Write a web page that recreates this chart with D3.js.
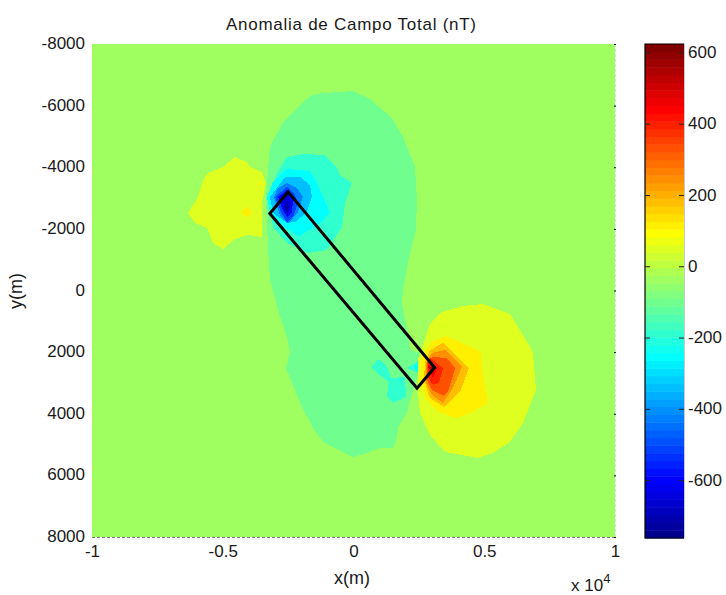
<!DOCTYPE html>
<html lang="en">
<head>
  <meta charset="UTF-8">
  <title>Anomalia de Campo Total</title>
  <style>
    body { margin: 0; background: white; }
    svg { display: block; }
    text { font-family: "Liberation Sans", Arial, sans-serif; fill: #1a1a1a; }
    .domain { display: none; }
  </style>
</head>
<body>
  <svg id="chart" width="726" height="595"></svg>

  <script src="https://d3js.org/d3.v7.min.js"></script>
  <script>
    // colour limits of the field (nT)
    const cMin = -761, cMax = 625;
    const backgroundLevel = -36;

    const xTicks = [-10000, -5000, 0, 5000, 10000];
    const xTickLabels = ["-1", "-0.5", "0", "0.5", "1"];
    const yTicks = [-8000, -6000, -4000, -2000, 0, 2000, 4000, 6000, 8000];
    const cTicks = [-600, -400, -200, 0, 200, 400, 600];

    // filled contours, [x, y] in metres
    const lowMint = [[-1587,-6344],[-1166,-6409],[-19,-6474],[631,-6214],[1472,-5598],[1893,-4981],[2352,-4008],[2428,-2937],[2390,-1963],[2084,-925],[1893,-16],[1855,406],[2046,1282],[2161,1931],[2543,2028],[2466,2190],[2428,2807],[2275,3229],[2046,3975],[1702,4429],[1663,4754],[1510,5111],[1013,5111],[516,5273],[-19,5403],[-784,5078],[-1166,4916],[-1549,4462],[-2008,3716],[-2237,3229],[-2581,2515],[-2428,1996],[-2505,1606],[-2772,957],[-3040,146],[-3193,-341],[-3270,-1412],[-3346,-2937],[-3270,-3910],[-3193,-4657],[-2696,-5468],[-1931,-6117]];
    const lowTeal = [[-2543,-4332],[-1931,-4429],[-1090,-4397],[-631,-3975],[-516,-3748],[-57,-3488],[-325,-2839],[-440,-2061],[-1013,-1314],[-1740,-1217],[-2543,-1541],[-3078,-2061],[-3270,-3034],[-2925,-3813]];
    const lowTealSpot = [[937,2223],[1281,2450],[1434,2839],[1969,2807],[2008,3456],[1510,3651],[1281,3424],[1358,2969],[899,2677],[707,2482]];
    const lowTealDiamond = [[2046,2515],[2466,2288],[2466,2677]];
    const lowCyan = [[-2543,-3943],[-1663,-3878],[-1396,-3488],[-1166,-3034],[-899,-2515],[-1281,-2190],[-2046,-1769],[-2696,-2061],[-3193,-2547],[-3308,-3034],[-3078,-3521]];
    const lowCyanDiamond = [[2275,2482],[2466,2385],[2466,2612]];
    const lowSky = [[-2619,-3683],[-2046,-3683],[-1663,-3423],[-1587,-3034],[-1778,-2547],[-2237,-2223],[-2543,-2190],[-3078,-2515],[-3193,-3034]];
    const lowAzure = [[-2543,-3488],[-2161,-3326],[-1931,-3034],[-2122,-2547],[-2505,-2158],[-2811,-2450],[-3040,-3034],[-2887,-3326]];
    const lowBlue = [[-2543,-3359],[-2275,-3164],[-2122,-2839],[-2314,-2385],[-2543,-2223],[-2772,-2547],[-3002,-3034]];
    const lowDeep = [[-2543,-3261],[-2314,-2937],[-2352,-2547],[-2543,-2385],[-2734,-2677],[-2887,-3034]];
    const lowNavy = [[-2543,-3164],[-2390,-2839],[-2505,-2450],[-2581,-2515],[-2696,-2872]];
    const lowDark = [[-2505,-2872],[-2466,-2677],[-2543,-2515],[-2619,-2710]];

    const highLeft = [[-4531,-4332],[-4034,-4137],[-3958,-4008],[-3499,-3845],[-3346,-3488],[-3499,-2839],[-3499,-1736],[-4034,-1801],[-4531,-1671],[-4990,-1347],[-5373,-1541],[-5602,-2028],[-6061,-2190],[-6329,-2515],[-5946,-3034],[-5755,-3586],[-5564,-3813],[-4990,-4008]];
    const highLeftSpot = [[-4073,-2742],[-3881,-2515],[-4073,-2385],[-4302,-2515]];
    const highLeftDot = [[-3575,-3553],[-3537,-3456],[-3575,-3326],[-3614,-3456]];
    const highRight = [[4952,438],[5985,763],[6367,1282],[6864,1996],[6979,3229],[6482,4300],[5985,4916],[5334,5273],[4761,5435],[3499,5241],[2925,4689],[2543,3975],[2466,3326],[2466,2255],[2734,1606],[2925,1055],[3384,698],[4187,503]];
    const highYellow = [[3499,1476],[4073,1671],[4876,1996],[4914,2580],[5105,3456],[5105,3651],[4570,3943],[3958,4137],[3231,3943],[2811,3553],[2581,3002],[2581,2255],[2925,1704]];
    const highAmber = [[3422,1704],[4417,2515],[4073,3294],[3461,3780],[2925,3488],[2696,2904],[2734,2320],[2925,1931]];
    const highOrange = [[3499,1931],[4149,2482],[3805,3164],[3422,3651],[3002,3391],[2772,3002],[2772,2353],[3002,2028]];
    const highVermilion = [[3575,2190],[3881,2515],[3614,3294],[3461,3424],[3002,3229],[2811,2904],[2811,2353],[3040,2158]];
    const highRed = [[2925,2190],[3422,2515],[3270,3002],[3040,3067],[2849,2807],[2849,2353]];
    const highCrimson = [[2849,2418],[3193,2515],[3040,2839],[2925,2645]];
    const highMaroon = [[2849,2482],[3040,2482],[2964,2645]];

    // painted in this order, outer contours first
    const contours = [
      { level: -101, ring: lowMint },
      { level: -186, ring: lowTeal },
      { level: -186, ring: lowTealSpot },
      { level: -186, ring: lowTealDiamond },
      { level: -252, ring: lowCyan },
      { level: -252, ring: lowCyanDiamond },
      { level: -339, ring: lowSky },
      { level: -425, ring: lowAzure },
      { level: -512, ring: lowBlue },
      { level: -599, ring: lowDeep },
      { level: -664, ring: lowNavy },
      { level: -729, ring: lowDark },
      { level: 50, ring: highLeft },
      { level: 115, ring: highLeftSpot },
      { level: 115, ring: highLeftDot },
      { level: 50, ring: highRight },
      { level: 115, ring: highYellow },
      { level: 180, ring: highAmber },
      { level: 245, ring: highOrange },
      { level: 332, ring: highVermilion },
      { level: 397, ring: highRed },
      { level: 462, ring: highCrimson },
      { level: 527, ring: highMaroon }
    ];

    // the prism outline drawn on top
    const prism = [[-2500,-3200],[3100,2500],[2430,3170],[-3200,-2500]];

    const svg = d3.select("#chart");

    const x = d3.scaleLinear().domain([-10000, 10000]).range([92, 615]);
    const y = d3.scaleLinear().domain([-8000, 8000]).range([44, 537]);
    const c = d3.scaleLinear().domain([cMin, cMax]).range([538, 44]);

    // matlab jet(64)
    function jetRow(i) {
      const ramp = (v) => Math.max(0, Math.min(1, v));
      const r = ramp(Math.min((i - 24) / 16, (72 - i) / 16));
      const g = ramp(Math.min((i - 8) / 16, (56 - i) / 16));
      const b = ramp(Math.min((i + 8) / 16, (40 - i) / 16));
      return d3.rgb(r * 255, g * 255, b * 255).formatHex();
    }
    function jet(v) {
      const row = Math.min(64, Math.floor((v - cMin) / (cMax - cMin) * 64) + 1);
      return jetRow(row);
    }

    // field
    svg.append("rect")
      .attr("x", x(-10000)).attr("y", y(-8000))
      .attr("width", x(10000) - x(-10000)).attr("height", y(8000) - y(-8000))
      .attr("fill", jet(backgroundLevel));

    const ringPath = d3.line().x(d => x(d[0])).y(d => y(d[1])).curve(d3.curveLinearClosed);

    svg.append("g").selectAll("path")
      .data(contours)
      .join("path")
      .attr("d", d => ringPath(d.ring))
      .attr("fill", d => jet(d.level))
      .attr("shape-rendering", "crispEdges");

    svg.append("path")
      .attr("d", ringPath(prism))
      .attr("fill", "none")
      .attr("stroke", "black")
      .attr("stroke-width", 3)
      .attr("stroke-linejoin", "miter");

    // what shows of the axes box under the field
    svg.append("line")
      .attr("x1", x(-10000)).attr("x2", x(10000))
      .attr("y1", y(8000) + 0.5).attr("y2", y(8000) + 0.5)
      .attr("stroke", "#777").attr("stroke-dasharray", "3,2");
    svg.append("line")
      .attr("x1", x(10000) + 0.5).attr("x2", x(10000) + 0.5)
      .attr("y1", y(-8000)).attr("y2", y(8000))
      .attr("stroke", "#cfe8d8").attr("stroke-dasharray", "3,2");

    const tickFont = "17px";

    const xAxis = svg.append("g")
      .attr("transform", `translate(0,${y(8000)})`)
      .call(d3.axisBottom(x).tickValues(xTicks).tickFormat((d, i) => xTickLabels[i]).tickSize(0).tickPadding(8));
    xAxis.selectAll("text").attr("font-size", tickFont);

    const yAxis = svg.append("g")
      .attr("transform", `translate(${x(-10000)},0)`)
      .call(d3.axisLeft(y).tickValues(yTicks).tickFormat(String).tickSize(0).tickPadding(7));
    yAxis.selectAll("text").attr("font-size", tickFont).attr("dy", "0.27em");

    svg.append("g")
      .attr("transform", `translate(${x(10000) + 1},0)`)
      .call(d3.axisLeft(y).tickValues(yTicks).tickFormat("").tickSize(2))
      .selectAll("line").attr("stroke", "black");

    // titles
    svg.append("text").attr("x", 351).attr("y", 30).attr("text-anchor", "middle")
      .attr("font-size", "17px").attr("textLength", 250).attr("lengthAdjust", "spacing")
      .text("Anomalia de Campo Total (nT)");
    svg.append("text").attr("x", 352).attr("y", 584).attr("text-anchor", "middle")
      .attr("font-size", "18px").text("x(m)");
    svg.append("text").attr("transform", "translate(22,291) rotate(-90)").attr("text-anchor", "middle")
      .attr("font-size", "18px").text("y(m)");

    const mult = svg.append("text").attr("x", 571).attr("y", 591).attr("font-size", "17px");
    mult.append("tspan").text("x 10");
    mult.append("tspan").attr("dy", -8).attr("font-size", "13px").text("4");

    // colorbar
    const barX = 645, barW = 39;
    const rows = d3.range(1, 65);
    const rowH = (c(cMin) - c(cMax)) / 64;
    svg.append("g").selectAll("rect")
      .data(rows)
      .join("rect")
      .attr("x", barX)
      .attr("y", d => c(cMin) - d * rowH)
      .attr("width", barW)
      .attr("height", rowH + 0.5)
      .attr("fill", d => jetRow(d));

    svg.append("path")
      .attr("d", `M${barX + barW},${c(cMax)}H${barX}V${c(cMin)}H${barX + barW}`)
      .attr("fill", "none").attr("stroke", "black").attr("stroke-width", 1.2);
    svg.append("line")
      .attr("x1", barX + barW + 0.5).attr("x2", barX + barW + 0.5)
      .attr("y1", c(cMax)).attr("y2", c(cMin))
      .attr("stroke", "#c8c8c8");

    const cAxis = svg.append("g")
      .attr("transform", `translate(${barX + barW},0)`)
      .call(d3.axisRight(c).tickValues(cTicks).tickFormat(String).tickSize(0).tickPadding(4));
    cAxis.selectAll("text").attr("font-size", tickFont).attr("dy", "0.27em");

    // ticks poke in from both sides of the bar
    svg.append("g").selectAll("path")
      .data(cTicks)
      .join("path")
      .attr("d", d => `M${barX},${c(d)}h5M${barX + barW},${c(d)}h-5`)
      .attr("stroke", "#222").attr("fill", "none");
  </script>
</body>
</html>
